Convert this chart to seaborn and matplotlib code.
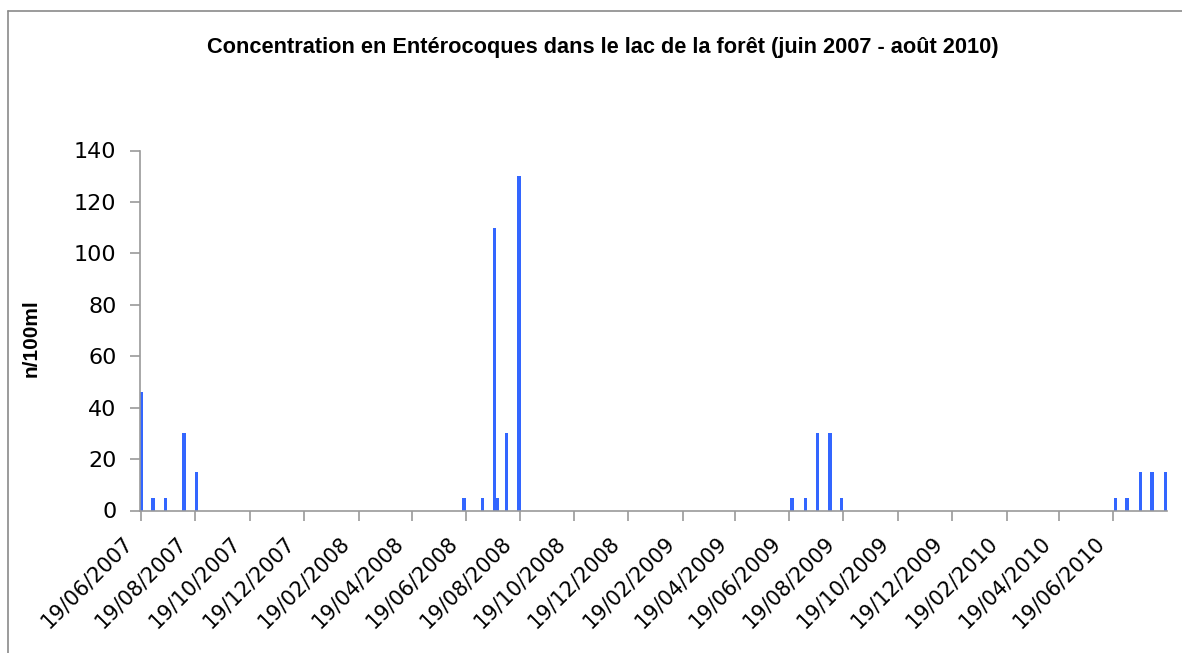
import pandas as pd
import numpy as np
import matplotlib
matplotlib.use('Agg')
import matplotlib.pyplot as plt
import matplotlib.dates as mdates
import matplotlib.transforms as mtransforms
from matplotlib.lines import Line2D
import seaborn as sns

# prelevements (dates) et concentrations
dates = ['2007-06-19', '2007-07-02', '2007-07-16', '2007-08-06', '2007-08-20',
         '2008-06-17', '2008-07-08', '2008-07-21', '2008-07-25', '2008-08-04', '2008-08-18',
         '2009-06-22', '2009-07-07', '2009-07-21', '2009-08-04', '2009-08-17',
         '2010-06-22', '2010-07-05', '2010-07-20', '2010-08-02', '2010-08-17']
values = [46, 5, 5, 30, 15,
          5, 5, 110, 5, 30, 130,
          5, 5, 30, 30, 5,
          5, 5, 15, 15, 15]
tick_labels = ['19/06/2007', '19/08/2007', '19/10/2007', '19/12/2007',
               '19/02/2008', '19/04/2008', '19/06/2008', '19/08/2008', '19/10/2008', '19/12/2008',
               '19/02/2009', '19/04/2009', '19/06/2009', '19/08/2009', '19/10/2009', '19/12/2009',
               '19/02/2010', '19/04/2010', '19/06/2010']
y_ticks = [0, 20, 40, 60, 80, 100, 120, 140]

title = 'Concentration en Entérocoques dans le lac de la forêt (juin 2007 - août 2010)'
bar_color = '#3366ff'
axis_color = '#9a9a9a'

sns.set_style('white')
plt.rcParams['font.family'] = ['DejaVu Sans']
plt.rcParams['text.color'] = 'black'
plt.rcParams['axes.labelcolor'] = 'black'
plt.rcParams['xtick.labelcolor'] = 'black'
plt.rcParams['ytick.labelcolor'] = 'black'

x_num = mdates.date2num(pd.to_datetime(dates))
df = pd.DataFrame({'x': x_num, 'y': values})

fig = plt.figure(figsize=(11.82, 6.53), dpi=100)
ax = fig.add_axes([140 / 1182, 1 - 510.5 / 653, (1167 - 140) / 1182, 360 / 653])
sns.barplot(data=df, x='x', y='y', native_scale=True, color=bar_color,
            saturation=1, errorbar=None, width=0.95, ax=ax, linewidth=0)

ax.set_xlim(x_num[0] - 1.6, x_num[-1] + 2)
ax.set_ylim(0, 140)
ax.set_yticks(y_ticks)
ax.set_yticklabels([str(v) for v in y_ticks], fontsize=16)
tick_num = mdates.date2num(pd.to_datetime(tick_labels, format='%d/%m/%Y'))
ax.set_xticks(tick_num)
ax.set_xticklabels(tick_labels, fontsize=15, rotation=45, ha='right', rotation_mode='anchor')
ax.set_xlabel('')
ax.set_ylabel('n/100ml', fontsize=15, fontweight='bold',
              family=['Liberation Sans', 'DejaVu Sans'])
ax.yaxis.set_label_coords((41 - 140) / 1027, (510.5 - 338) / 360)

for side in ['top', 'right']:
    ax.spines[side].set_visible(False)
for side in ['left', 'bottom']:
    ax.spines[side].set_color(axis_color)
    ax.spines[side].set_linewidth(1.2)
ax.tick_params(axis='both', direction='out', length=7, width=1.2, color=axis_color,
               labelcolor='black')
ax.tick_params(axis='y', pad=10, left=True)
ax.tick_params(axis='x', pad=9, bottom=True)

# decalage des etiquettes de dates vers la gauche (apres tick_params)
shift = mtransforms.ScaledTranslation(-19 / 100, 0, fig.dpi_scale_trans)
for lab in ax.get_xticklabels():
    lab.set_transform(lab.get_transform() + shift)

fig.text(0.51, 1 - 48 / 653, title, ha='center', va='center', fontsize=15.7,
         fontweight='bold', color='black', family=['Liberation Sans', 'DejaVu Sans'])

# cadre du graphique
fig.add_artist(Line2D([8 / 1182, 1], [1 - 11 / 653, 1 - 11 / 653], color='#8a8a8a', lw=1.2))
fig.add_artist(Line2D([8 / 1182, 8 / 1182], [0, 1 - 11 / 653], color='#8a8a8a', lw=1.2))

plt.savefig('out.png', dpi=100)
